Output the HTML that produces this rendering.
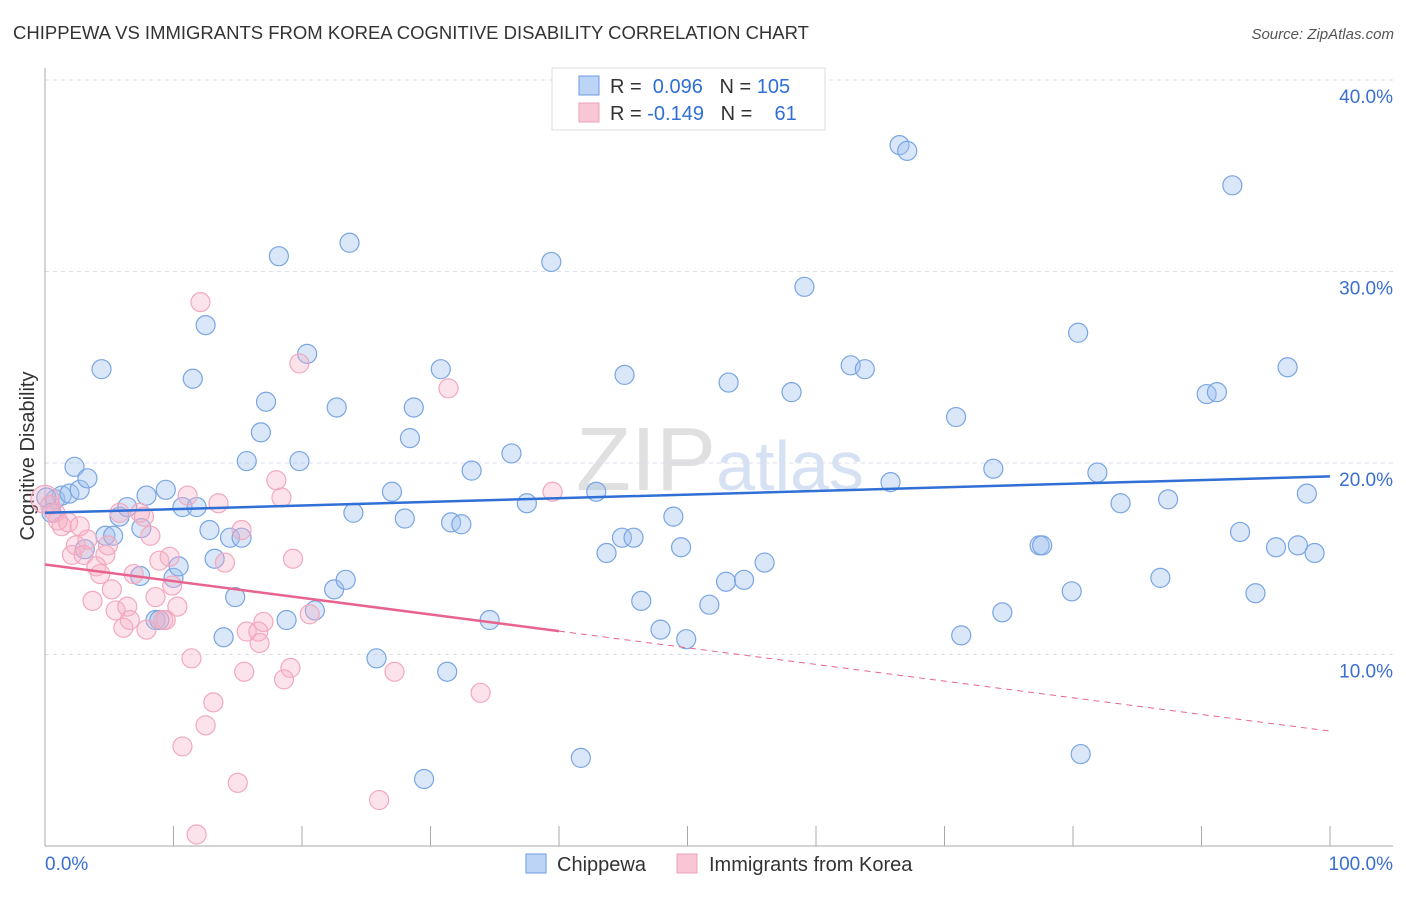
<!DOCTYPE html>
<html><head><meta charset="utf-8"><style>
body{margin:0;background:#fff;font-family:"Liberation Sans",sans-serif;}
svg text{font-family:"Liberation Sans",sans-serif;}
</style></head><body>
<svg id="chart" width="1406" height="892" xmlns="http://www.w3.org/2000/svg">
<text x="13" y="39" font-size="18.5" fill="#333">CHIPPEWA VS IMMIGRANTS FROM KOREA COGNITIVE DISABILITY CORRELATION CHART</text>
<text x="1394" y="39" font-size="15" fill="#555" font-style="italic" text-anchor="end">Source: ZipAtlas.com</text>
<text x="720" y="490" font-size="90" text-anchor="middle" fill="#e4e4e8" font-family="Liberation Serif"><tspan fill="#e0e0e0">ZIP</tspan><tspan fill="#d6e2f3" font-family="Liberation Sans" font-size="70">atlas</tspan></text>
<g id="grid"></g><g id="axes"></g>
<text transform="translate(34,456) rotate(-90)" font-size="20" fill="#333" text-anchor="middle">Cognitive Disability</text>
<g id="pts"></g><g id="lines"></g>
<g>
<rect x="552" y="68" width="273" height="62" fill="#fff" stroke="#ddd"/>
<rect x="579" y="76" width="20" height="19" fill="#bcd4f5" stroke="#6a9be0"/>
<rect x="579" y="103" width="20" height="19" fill="#f9c6d5" stroke="#f0a0b8"/>
<text x="610" y="93" font-size="20" fill="#333">R = <tspan fill="#2f6fd6">&#160;0.096</tspan>&#160;&#160;&#160;N = <tspan fill="#2f6fd6">105</tspan></text>
<text x="610" y="120" font-size="20" fill="#333">R = <tspan fill="#2f6fd6">-0.149</tspan>&#160;&#160;&#160;N = <tspan fill="#2f6fd6">&#160;&#160;&#160;61</tspan></text>
</g>
<g>
<rect x="526" y="854" width="20" height="19" fill="#bcd4f5" stroke="#6a9be0"/>
<text x="557" y="871" font-size="20" fill="#333">Chippewa</text>
<rect x="677" y="854" width="20" height="19" fill="#f9c6d5" stroke="#f0a0b8"/>
<text x="709" y="871" font-size="20" fill="#333">Immigrants from Korea</text>
</g>
</svg>
<script>
const yTicks=[10,20,30,40];
const xTickLabels=["0.0%","100.0%"];
const blueX=[0.8,1.3,1.9,2.3,2.7,3.3,4.4,4.7,5.3,5.8,6.4,7.5,7.9,8.6,8.9,9.4,10.0,10.4,10.7,11.5,11.8,12.5,12.8,13.2,13.9,14.4,14.8,15.3,15.7,16.8,17.2,18.2,18.8,19.8,20.4,21.0,22.5,22.7,23.4,23.7,24.0,25.8,27.0,28.0,28.4,28.7,29.5,30.8,31.3,31.6,32.4,33.2,34.6,36.3,37.5,39.4,41.7,42.9,43.7,44.9,45.1,45.8,46.4,47.9,48.9,49.5,49.9,51.7,53.0,53.2,54.4,56.0,58.1,59.1,62.7,63.8,65.8,66.5,67.1,70.9,71.3,73.8,74.5,77.4,77.6,79.9,80.4,80.6,81.9,83.7,86.8,87.4,90.4,91.2,92.4,93.0,94.2,95.8,96.7,97.5,98.2,98.8,0.1,0.5,7.4,3.1];
const blueY=[18.1,18.3,18.4,19.8,18.6,19.2,24.9,16.2,16.2,17.2,17.7,16.6,18.3,11.8,11.8,18.6,14.0,14.6,17.7,24.4,17.7,27.2,16.5,15.0,10.9,16.1,13.0,16.1,20.1,21.6,23.2,30.8,11.8,20.1,25.7,12.3,13.4,22.9,13.9,31.5,17.4,9.8,18.5,17.1,21.3,22.9,3.5,24.9,9.1,16.9,16.8,19.6,11.8,20.5,17.9,30.5,4.6,18.5,15.3,16.1,24.6,16.1,12.8,11.3,17.2,15.6,10.8,12.6,13.8,24.2,13.9,14.8,23.7,29.2,25.1,24.9,19.0,36.6,36.3,22.4,11.0,19.7,12.2,15.7,15.7,13.3,26.8,4.8,19.5,17.9,14.0,18.1,23.6,23.7,34.5,16.4,13.2,15.6,25.0,15.7,18.4,15.3,18.2,17.4,14.1,15.5];
const pinkX=[0,0.4,0.8,1.0,1.3,1.8,2.1,2.4,2.7,3.0,3.3,3.7,4.0,4.3,4.7,4.9,5.2,5.5,5.8,6.1,6.4,6.6,6.9,7.4,7.7,7.9,8.2,8.6,8.9,9.2,9.4,9.7,9.9,10.3,10.7,11.1,11.4,11.8,12.1,12.5,13.1,13.5,14.0,15.0,15.3,15.5,15.7,16.6,16.7,17.0,18.0,18.4,18.6,19.1,19.3,19.8,20.6,26.0,27.2,31.4,33.9,39.5];
const pinkY=[18.1,17.8,17.4,17.0,16.7,16.9,15.2,15.7,16.7,15.2,16.0,12.8,14.6,14.2,15.2,15.7,13.4,12.3,17.4,11.4,12.5,11.8,14.2,17.4,17.2,11.3,16.2,13.0,14.9,11.8,11.8,15.1,13.6,12.5,5.2,18.3,9.8,0.6,28.4,6.3,7.5,17.9,14.8,3.3,16.5,9.1,11.2,11.2,10.6,11.7,19.1,18.2,8.7,9.3,15.0,25.2,12.1,2.4,9.1,23.9,8.0,18.5];
const blueTrend=[17.4,19.3];
const pinkTrend=[14.7,6.0];
const pinkSolidEnd=40;
const NS="http://www.w3.org/2000/svg";
const sx=v=>45+v*12.85, sy=v=>846-v*19.15;
function mk(tag,attrs,parent){const e=document.createElementNS(NS,tag);for(const k in attrs)e.setAttribute(k,attrs[k]);parent.appendChild(e);return e;}
const grid=document.getElementById('grid'),axes=document.getElementById('axes'),pts=document.getElementById('pts'),lines=document.getElementById('lines');
yTicks.forEach(t=>{
 const l=mk('line',{x1:45,x2:1393,y1:sy(t),y2:sy(t),stroke:'#dde',"stroke-dasharray":'4,4'},grid);
 
 
 const tx=mk('text',{x:1393,y:sy(t)+23,"font-size":19,fill:'#3a6fd0',"text-anchor":'end'},axes);
 tx.textContent=t.toFixed(1)+'%';
 
 
});
const ax=mk('line',{x1:45,x2:45,y1:68,y2:846,stroke:'#aaa'},axes);


const bx=mk('line',{x1:45,x2:1393,y1:846,y2:846,stroke:'#aaa'},axes);


for(let i=1;i<=10;i++){const t=mk('line',{x1:sx(i*10),x2:sx(i*10),y1:826,y2:846,stroke:'#aaa'},axes);
 
 }
[[0,'start',45],[1,'end',1393]].forEach(([i,a,x])=>{const t=mk('text',{x:x,y:870,"font-size":19,fill:'#3a6fd0',"text-anchor":a},axes);t.textContent=xTickLabels[i];
 
 });
blueX.forEach((v,i)=>{const c=mk('circle',{cx:sx(v),cy:sy(blueY[i]),r:9.5,fill:'rgba(160,195,240,0.4)',stroke:'#7aa5e3',"stroke-width":1.2},pts);
 
 });
pinkX.forEach((v,i)=>{const c=mk('circle',{cx:sx(v),cy:sy(pinkY[i]),r:i===0?14:9.5,fill:'rgba(245,175,198,0.35)',stroke:'#f2a8be',"stroke-width":1.2},pts);
 
 });
const bl=mk('line',{x1:sx(0),y1:sy(blueTrend[0]),x2:sx(100),y2:sy(blueTrend[1]),stroke:'#2f6fd6',"stroke-width":2.5},lines);


const pm=pinkTrend[0]+(pinkTrend[1]-pinkTrend[0])*pinkSolidEnd/100;
const pl=mk('line',{x1:sx(0),y1:sy(pinkTrend[0]),x2:sx(pinkSolidEnd),y2:sy(pm),stroke:'#e8648f',"stroke-width":2.5},lines);


const pd=mk('line',{x1:sx(pinkSolidEnd),y1:sy(pm),x2:sx(100),y2:sy(pinkTrend[1]),stroke:'#e8648f',"stroke-width":1,"stroke-dasharray":'6,5'},lines);


</script>
</body></html>
